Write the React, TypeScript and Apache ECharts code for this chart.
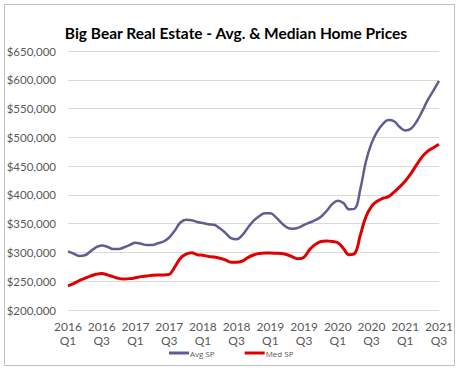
import React, { useEffect, useRef } from "react";
import * as echarts from "echarts";

const months: string[] = [];
for (let y = 2016; y <= 2021; y++) {
  for (let m = 1; m <= 12; m++) {
    if (y === 2021 && m > 7) break;
    months.push(`${y}-${String(m).padStart(2, "0")}`);
  }
}

const avgSP = [
  302000, 298000, 294000, 295000, 302000, 309000, 312000, 310000, 306000, 306000,
  309000, 313000, 317000, 315000, 313000, 313000, 316000, 319000, 326000, 338000,
  352000, 357000, 356000, 353000, 351000, 349000, 348000, 342000, 334000, 325000,
  323000, 330000, 343000, 355000, 363000, 368000, 368000, 361000, 351000, 343000,
  341000, 343000, 348000, 352000, 356000, 362000, 372000, 384000, 390000, 386000,
  375000, 376000, 410000, 458000, 490000, 510000, 523000, 530000, 528000, 518000,
  512000, 515000, 527000, 545000, 565000, 581000, 598000,
];

const medSP = [
  242000, 246000, 251000, 255000, 259000, 262000, 263500, 261000, 258000, 255000,
  254000, 254500, 256000, 258000, 259000, 260500, 261000, 261000, 262000, 275000,
  290000, 297000, 299500, 296000, 295000, 293000, 292000, 290000, 287000, 283000,
  283000, 285000, 291000, 295500, 298000, 299000, 299000, 298500, 298000, 296000,
  292000, 289000, 292000, 305000, 314000, 319000, 320000, 319000, 317000, 307000,
  296000, 298000, 330000, 362000, 380000, 389000, 394000, 397000, 405000, 414000,
  424000, 437000, 452000, 466000, 476000, 482000, 488000,
];

const seriesNames = ["Avg SP", "Med SP"];
const titleText = "Big Bear Real Estate - Avg. & Median Home Prices";

export default function App() {
  const ref = useRef<HTMLDivElement>(null);
  useEffect(() => {
    if (!ref.current) return;
    const chart = echarts.init(ref.current, undefined, { renderer: "svg" });
    chart.setOption({
      animation: false,
      backgroundColor: "#ffffff",
      title: {
        text: titleText,
        left: 231,
        textAlign: "center",
        top: 20,
        textStyle: {
          fontFamily: "Lato",
          fontWeight: "bold",
          fontSize: 15.5,
          color: "#000000",
        },
      },
      graphic: [
        {
          type: "rect",
          shape: { x: 4.5, y: 4.5, width: 450, height: 361 },
          style: { fill: "none", stroke: "#c0c0c0", lineWidth: 1 },
          silent: true,
        },
      ],
      legend: {
        bottom: 10,
        left: 164,
        itemGap: 30,
        itemWidth: 20,
        itemHeight: 3,
        icon: "rect",
        textStyle: { fontSize: 8, color: "#595959", fontFamily: "Open Sans", padding: [0, 0, 0, -4] },
        data: seriesNames,
      },
      grid: { left: 68, right: 21, top: 51, bottom: 62 },
      xAxis: {
        type: "category",
        data: months,
        boundaryGap: false,
        axisLine: { show: false },
        axisTick: { show: false },
        axisLabel: {
          interval: 5,
          margin: 9,
          color: "#595959",
          fontSize: 12,
          lineHeight: 14,
          fontFamily: "Lato",
          formatter: (v: string) => {
            const [y, m] = v.split("-");
            const q = Math.floor((parseInt(m, 10) - 1) / 3) + 1;
            return `${y}\nQ${q}`;
          },
        },
      },
      yAxis: {
        type: "value",
        min: 200000,
        max: 650000,
        interval: 50000,
        axisLine: { show: false },
        axisTick: { show: false },
        splitLine: { lineStyle: { color: "#d9d9d9", width: 1 } },
        axisLabel: {
          color: "#595959",
          fontSize: 11.5,
          margin: 12,
          fontFamily: "Lato",
          formatter: (v: number) => "$" + v.toLocaleString("en-US"),
        },
      },
      series: [
        {
          name: seriesNames[0],
          type: "line",
          data: avgSP,
          smooth: 0.4,
          showSymbol: false,
          lineStyle: { color: "#5e5e92", width: 2.5 },
          itemStyle: { color: "#5e5e92" },
        },
        {
          name: seriesNames[1],
          type: "line",
          data: medSP,
          smooth: 0.4,
          showSymbol: false,
          lineStyle: { color: "#e00000", width: 3 },
          itemStyle: { color: "#e00000" },
        },
      ],
    });
    return () => chart.dispose();
  }, []);
  return (
    <div
      ref={ref}
      style={{ position: "fixed", left: 0, top: 0, width: 460, height: 372 }}
    />
  );
}
